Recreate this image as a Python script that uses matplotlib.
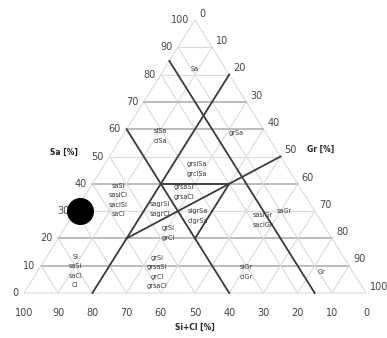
import matplotlib.pyplot as plt

# ternary diagram: Sa (top), Gr (bottom right), Si+Cl (bottom left)
ticks = [0, 10, 20, 30, 40, 50, 60, 70, 80, 90, 100]
strong_sa = [10, 20, 40, 60, 70]

# class boundaries, each as ((Sa, Gr), (Sa, Gr))
boundaries = [
    ((0, 20), (80, 20)),   # Gr = 20
    ((0, 85), (85, 0)),    # Si+Cl = 15
    ((0, 60), (60, 0)),    # Si+Cl = 40
    ((40, 20), (40, 40)),  # Sa = 40
    ((20, 20), (50, 50)),  # Sa = Gr
    ((20, 40), (40, 40)),  # Gr = 40
]

class_names = ["Sa", "siSa\nclSa", "grSa", "grsiSa\ngrclSa", "grsaSi\ngrsaCl",
               "sagrSi\nsagrCl", "sigrSa\nclgrSa", "grSi\ngrCl", "sasiGr\nsaclGr",
               "saGr", "siGr\nclGr", "Gr", "grSi\ngrsaSi\ngrCl\ngrsaCl",
               "Si\nsaSi\nsaCl\nCl", "saSi\nsasiCl\nsaclSi\nsaCl"]
class_sa = [82, 57.5, 58.6, 45.4, 37, 30.8, 28.2, 22, 26.7, 30, 7.7, 7.7, 7.7, 8, 34]
class_gr = [9, 11, 32.8, 27.9, 28.3, 24.3, 36.8, 31.1, 56.4, 61, 61.2, 83, 35, 11, 10.6]

sample_sa = [30]
sample_gr = [1.5]


def tern(sa, gr):
    return gr + sa / 2.0, sa


fig = plt.figure(figsize=(3.87, 3.38), dpi=100)
ax = fig.add_axes([0, 0, 1, 1])
ax.set_xlim(-7.02, 106.14)
ax.set_ylim(-16.48, 107.33)
ax.axis('off')

light = '#dadada'
mid = '#bcbcbc'

# outline
corners = [tern(0, 0), tern(0, 100), tern(100, 0), tern(0, 0)]
ax.plot([c[0] for c in corners], [c[1] for c in corners], color=light, lw=0.8)

# 10 % grid
for v in ticks[1:-1]:
    a, b = tern(v, 0), tern(v, 100 - v)
    if v in strong_sa:
        ax.plot([a[0], b[0]], [a[1], b[1]], color=mid, lw=1.4)
    else:
        ax.plot([a[0], b[0]], [a[1], b[1]], color=light, lw=0.8)
    a, b = tern(0, v), tern(100 - v, v)
    ax.plot([a[0], b[0]], [a[1], b[1]], color=light, lw=0.8)
    a, b = tern(0, 100 - v), tern(100 - v, 0)
    ax.plot([a[0], b[0]], [a[1], b[1]], color=light, lw=0.8)

for p, q in boundaries:
    a, b = tern(*p), tern(*q)
    ax.plot([a[0], b[0]], [a[1], b[1]], color='#3a3a3a', lw=1.3)

for name, sa, gr in zip(class_names, class_sa, class_gr):
    x, y = tern(sa, gr)
    ax.text(x, y, name, fontsize=4.7, color='#333333', ha='center', va='center',
            linespacing=1.7)

tk = dict(fontsize=7, color='#444444', textcoords='offset points')
for v in ticks:
    ax.annotate(str(v), tern(v, 0), xytext=(-4, 0), ha='right', va='center', **tk)
    ax.annotate(str(v), tern(100 - v, v), xytext=(3, 4.5), ha='left', va='center', **tk)
    ax.annotate(str(v), tern(0, 100 - v), xytext=(0, -14.5), ha='center', va='center', **tk)

ttl = dict(fontsize=5.5, color='#222222', fontweight='bold',
           textcoords='offset points', va='center')
ax.annotate('Sa [%]', tern(50, 0), xytext=(-33, 3), ha='center', **ttl)
ax.annotate('Gr [%]', tern(50, 50), xytext=(19, 5), ha='left', **ttl)
ax.annotate('Si+Cl [%]', tern(0, 50), xytext=(0, -25), ha='center', **ttl)

sx, sy = tern(sample_sa[0], sample_gr[0])
ax.scatter([sx], [sy], s=340, color='black', zorder=5)

fig.savefig('out.png', dpi=100, facecolor='white')
